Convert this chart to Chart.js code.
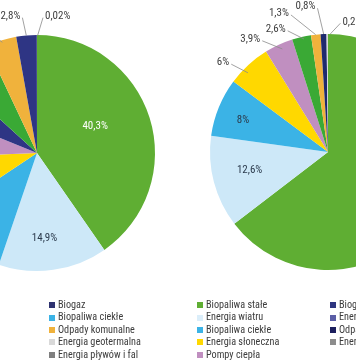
<!DOCTYPE html>
<html><head><meta charset="utf-8">
<script src="https://cdn.jsdelivr.net/npm/chart.js@4/dist/chart.umd.min.js"></script>
<style>
html,body{margin:0;padding:0;background:#fff;width:356px;height:364px;overflow:hidden;position:relative}
canvas{position:absolute}
.leg{position:absolute;font-size:10.2px;font-family:"Roboto Condensed","DejaVu Sans Condensed",sans-serif;color:#3c3c3c;white-space:nowrap}
.leg .it{height:12.4px;line-height:12.4px;display:flex;align-items:center}
.leg .sw{width:6px;height:6px;margin-right:3px;flex:none}
</style></head><body>
<canvas id="c1" width="600" height="600" style="left:-263px;top:-147px"></canvas>
<canvas id="c2" width="600" height="600" style="left:28px;top:-148px"></canvas>
<div id="legL" class="leg" style="left:-140px;top:299px"></div>
<div id="legR" class="leg" style="left:197px;top:299px"></div>
<script>
// ---- data ----
const leftLabels = ['Biopaliwa stałe','Energia wiatru','Energia wody','Energia słoneczna','Pompy ciepła','Biogaz','Biopaliwa ciekłe','Odpady komunalne','Energia geotermalna','Energia pływów i fal'];
const leftValues = [40.3,14.9,10.4,8.7,6.8,5.6,6.2,4.2,2.8,0.02];
const leftColors = ['#5fae33','#cde8f8','#3bb3e6','#ffd800','#c08fc0','#2e3584','#3aa935','#f0b23c','#2e3584','#7f7f7f'];

const rightLabels = ['Biopaliwa stałe','Energia wiatru','Biopaliwa ciekłe','Energia słoneczna','Pompy ciepła','Biogaz','Energia wody','Odpady komunalne','Energia geotermalna'];
const rightValues = [64.6,12.6,8,6,3.9,2.6,1.3,0.8,0.2];
const rightColors = ['#5fae33','#cde8f8','#3bb3e6','#ffd800','#c08fc0','#3aa935','#f0b23c','#1e2a6e','#d9d9d9'];

const legendLeftLabels = ['Biopaliwa stałe','Energia wiatru','Energia wody','Energia słoneczna','Pompy ciepła','Biogaz','Biopaliwa ciekłe','Odpady komunalne','Energia geotermalna','Energia pływów i fal'];
const legendLeftColors = ['#5fae33','#cde8f8','#2f6fb5','#ffd800','#c08fc0','#2e3270','#3bb3e6','#f0b23c','#d9d9d9','#7f7f7f'];
const legendRightLabels = ['Biopaliwa stałe','Energia wiatru','Biopaliwa ciekłe','Energia słoneczna','Pompy ciepła','Biogaz','Energia wody','Odpady komunalne','Energia geotermalna'];
const legendRightColors = ['#5fae33','#dbeefa','#3bb3e6','#ffd800','#c08fc0','#2e3580','#5b5ea6','#1c1f5e','#8c8c8c'];

// ---- label plugin ----
const FONT = '11px "Roboto Condensed","DejaVu Sans Condensed",sans-serif';
function fmt(v){ return String(v).replace('.', ',') + '%'; }
const rad = d => d*Math.PI/180 - Math.PI/2;
const pieLabels = {
  id:'pieLabels',
  afterDatasetsDraw(chart, args, opts){
    const ctx = chart.ctx, meta = chart.getDatasetMeta(0);
    const vals = chart.data.datasets[0].data;
    ctx.save();
    ctx.font = FONT; ctx.textAlign='center'; ctx.textBaseline='middle';
    meta.data.forEach((arc,i)=>{
      const p = arc.getProps(['x','y','startAngle','endAngle','outerRadius'], true);
      const R = p.outerRadius, mid = (p.startAngle+p.endAngle)/2;
      const pt = (a,r)=>[p.x+r*Math.cos(a), p.y+r*Math.sin(a)];
      const sp = (opts.place||{})[i] || {};
      const txt = fmt(vals[i]);
      if (sp.inside){
        const [tx,ty] = pt(rad(sp.a), sp.r);
        ctx.fillStyle = sp.color || '#2b3a4c';
        ctx.fillText(txt, tx, ty);
        return;
      }
      const ta = sp.a!==undefined ? rad(sp.a) : mid;
      const [tx,ty] = pt(ta, sp.r || R+26);
      const ea = sp.ea!==undefined ? rad(sp.ea) : mid;
      const [ex,ey] = pt(ea, sp.er || R-4);
      const w = ctx.measureText(txt).width;
      const sx = ex > tx ? tx + w/2 + 2 : tx - w/2 - 2;
      ctx.strokeStyle = '#8a8a8a'; ctx.lineWidth = 0.8;
      ctx.beginPath(); ctx.moveTo(sx, ty+1.5); ctx.lineTo(ex, ey); ctx.stroke();
      ctx.fillStyle = '#404040';
      ctx.fillText(txt, tx, ty);
    });
    ctx.restore();
  }
};

function makePie(id, labels, values, colors, place){
  return new Chart(document.getElementById(id), {
    type:'pie',
    data:{labels, datasets:[{data:values, backgroundColor:colors, borderWidth:0, radius:118}]},
    options:{responsive:false, animation:false, events:[],
      plugins:{legend:{display:false}, tooltip:{enabled:false}, pieLabels:{place}}},
    plugins:[pieLabels]
  });
}

makePie('c1', leftLabels, leftValues, leftColors, {
  0:{inside:true, a:65.3, r:64, color:'#ffffff'},
  1:{inside:true, a:175, r:86},
  7:{a:333, r:142, ea:342.6, er:116},
  8:{a:349, r:139.4, ea:354.8, er:118},
  9:{a:8.6, r:138.4, ea:0.3, er:117.5}
});
makePie('c2', rightLabels, rightValues, rightColors, {
  1:{inside:true, a:256.6, r:80.6},
  2:{inside:true, a:290.6, r:90.8},
  3:{a:310.4, r:137.8, ea:314.7, er:112.6},
  4:{a:325.4, r:136.9, ea:336.1, er:112.7},
  5:{a:336.9, r:133.4, ea:348, er:115.5},
  6:{a:340.5, r:147, ea:354, er:118},
  7:{a:351.2, r:147, ea:357.9, er:118},
  8:{a:10.6, r:132.5, ea:1.1, er:118}
});

// ---- legends (column-major, 5 rows per column) ----
function buildLegend(el, labels, colors, colGap){
  const rows = 5;
  for (let c=0; c*rows<labels.length; c++){
    const col = document.createElement('div');
    col.style.position='absolute'; col.style.left=(c*colGap)+'px'; col.style.top='0px';
    for (let r=0; r<rows && c*rows+r<labels.length; r++){
      const k = c*rows+r;
      const it = document.createElement('div'); it.className='it';
      const sw = document.createElement('span'); sw.className='sw'; sw.style.background=colors[k];
      const t = document.createElement('span'); t.textContent = labels[k];
      it.appendChild(sw); it.appendChild(t); col.appendChild(it);
    }
    el.appendChild(col);
  }
}
buildLegend(document.getElementById('legL'), legendLeftLabels, legendLeftColors, 189);
buildLegend(document.getElementById('legR'), legendRightLabels, legendRightColors, 133);
</script>
</body></html>
